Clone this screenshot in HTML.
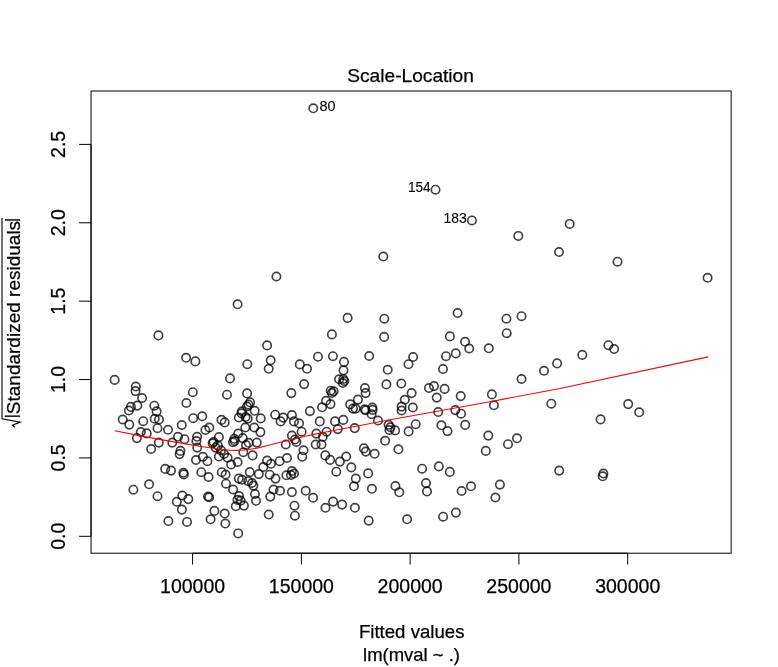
<!DOCTYPE html><html><head><meta charset="utf-8"><title>Scale-Location</title>
<style>html,body{margin:0;padding:0;background:#fff;}svg{display:block;will-change:transform;}text{font-family:"Liberation Sans",sans-serif;fill:#000;}</style></head><body>
<svg width="778" height="667" viewBox="0 0 778 667">
<rect width="778" height="667" fill="#fff"/>
<g fill="none" stroke="#000" stroke-opacity=".75" stroke-width="1.65">
<circle cx="313.3" cy="108.3" r="4.2"/>
<circle cx="435.5" cy="189.7" r="4.2"/>
<circle cx="471.9" cy="220.4" r="4.2"/>
<circle cx="276.4" cy="276.5" r="4.2"/>
<circle cx="237.6" cy="304.3" r="4.2"/>
<circle cx="158.4" cy="335.4" r="4.2"/>
<circle cx="186.1" cy="357.8" r="4.2"/>
<circle cx="195.4" cy="361.4" r="4.2"/>
<circle cx="267.1" cy="345.4" r="4.2"/>
<circle cx="270.7" cy="360.3" r="4.2"/>
<circle cx="247.3" cy="364.2" r="4.2"/>
<circle cx="268.7" cy="368.8" r="4.2"/>
<circle cx="383.3" cy="256.5" r="4.2"/>
<circle cx="347.6" cy="317.9" r="4.2"/>
<circle cx="384.3" cy="318.7" r="4.2"/>
<circle cx="457.6" cy="313.0" r="4.2"/>
<circle cx="331.9" cy="334.4" r="4.2"/>
<circle cx="384.1" cy="336.9" r="4.2"/>
<circle cx="449.9" cy="336.4" r="4.2"/>
<circle cx="465.1" cy="341.8" r="4.2"/>
<circle cx="469.2" cy="348.5" r="4.2"/>
<circle cx="488.8" cy="348.3" r="4.2"/>
<circle cx="455.8" cy="353.4" r="4.2"/>
<circle cx="446.0" cy="356.2" r="4.2"/>
<circle cx="318.0" cy="356.7" r="4.2"/>
<circle cx="332.9" cy="356.2" r="4.2"/>
<circle cx="369.2" cy="356.0" r="4.2"/>
<circle cx="413.1" cy="357.0" r="4.2"/>
<circle cx="344.0" cy="361.9" r="4.2"/>
<circle cx="408.5" cy="364.2" r="4.2"/>
<circle cx="299.8" cy="364.4" r="4.2"/>
<circle cx="307.0" cy="368.8" r="4.2"/>
<circle cx="343.5" cy="370.3" r="4.2"/>
<circle cx="387.7" cy="369.8" r="4.2"/>
<circle cx="443.0" cy="369.0" r="4.2"/>
<circle cx="569.7" cy="223.9" r="4.2"/>
<circle cx="518.3" cy="235.9" r="4.2"/>
<circle cx="559.0" cy="252.0" r="4.2"/>
<circle cx="617.5" cy="261.7" r="4.2"/>
<circle cx="707.6" cy="277.8" r="4.2"/>
<circle cx="506.4" cy="318.7" r="4.2"/>
<circle cx="521.5" cy="316.2" r="4.2"/>
<circle cx="506.7" cy="333.2" r="4.2"/>
<circle cx="608.4" cy="345.2" r="4.2"/>
<circle cx="614.1" cy="349.0" r="4.2"/>
<circle cx="582.3" cy="354.9" r="4.2"/>
<circle cx="557.1" cy="363.4" r="4.2"/>
<circle cx="544.0" cy="370.8" r="4.2"/>
<circle cx="114.6" cy="379.9" r="4.2"/>
<circle cx="135.8" cy="386.5" r="4.2"/>
<circle cx="135.5" cy="391.1" r="4.2"/>
<circle cx="142.1" cy="398.0" r="4.2"/>
<circle cx="137.3" cy="405.6" r="4.2"/>
<circle cx="130.9" cy="406.9" r="4.2"/>
<circle cx="128.9" cy="410.5" r="4.2"/>
<circle cx="122.7" cy="419.5" r="4.2"/>
<circle cx="129.3" cy="424.6" r="4.2"/>
<circle cx="154.3" cy="405.7" r="4.2"/>
<circle cx="156.6" cy="411.4" r="4.2"/>
<circle cx="154.7" cy="418.8" r="4.2"/>
<circle cx="159.0" cy="419.5" r="4.2"/>
<circle cx="143.2" cy="421.2" r="4.2"/>
<circle cx="157.5" cy="428.2" r="4.2"/>
<circle cx="168.0" cy="429.8" r="4.2"/>
<circle cx="181.8" cy="425.0" r="4.2"/>
<circle cx="186.4" cy="403.0" r="4.2"/>
<circle cx="140.8" cy="432.0" r="4.2"/>
<circle cx="146.7" cy="433.4" r="4.2"/>
<circle cx="136.9" cy="438.1" r="4.2"/>
<circle cx="178.0" cy="436.8" r="4.2"/>
<circle cx="184.5" cy="439.2" r="4.2"/>
<circle cx="230.0" cy="378.4" r="4.2"/>
<circle cx="192.8" cy="392.2" r="4.2"/>
<circle cx="227.0" cy="394.7" r="4.2"/>
<circle cx="247.1" cy="393.4" r="4.2"/>
<circle cx="193.2" cy="418.2" r="4.2"/>
<circle cx="202.2" cy="416.3" r="4.2"/>
<circle cx="250.1" cy="402.4" r="4.2"/>
<circle cx="248.5" cy="404.6" r="4.2"/>
<circle cx="247.0" cy="406.5" r="4.2"/>
<circle cx="254.7" cy="410.8" r="4.2"/>
<circle cx="242.0" cy="411.3" r="4.2"/>
<circle cx="241.4" cy="413.3" r="4.2"/>
<circle cx="238.8" cy="417.5" r="4.2"/>
<circle cx="245.5" cy="417.0" r="4.2"/>
<circle cx="247.7" cy="418.6" r="4.2"/>
<circle cx="260.7" cy="418.4" r="4.2"/>
<circle cx="221.5" cy="419.9" r="4.2"/>
<circle cx="224.7" cy="422.4" r="4.2"/>
<circle cx="275.2" cy="414.7" r="4.2"/>
<circle cx="283.2" cy="417.6" r="4.2"/>
<circle cx="280.6" cy="421.4" r="4.2"/>
<circle cx="245.3" cy="427.5" r="4.2"/>
<circle cx="254.3" cy="427.5" r="4.2"/>
<circle cx="260.4" cy="432.1" r="4.2"/>
<circle cx="209.3" cy="427.5" r="4.2"/>
<circle cx="205.4" cy="430.0" r="4.2"/>
<circle cx="197.1" cy="436.8" r="4.2"/>
<circle cx="218.9" cy="437.1" r="4.2"/>
<circle cx="238.2" cy="433.6" r="4.2"/>
<circle cx="234.3" cy="438.8" r="4.2"/>
<circle cx="242.7" cy="438.1" r="4.2"/>
<circle cx="304.1" cy="384.1" r="4.2"/>
<circle cx="291.3" cy="393.1" r="4.2"/>
<circle cx="386.4" cy="384.4" r="4.2"/>
<circle cx="339.1" cy="379.3" r="4.2"/>
<circle cx="343.3" cy="379.0" r="4.2"/>
<circle cx="344.3" cy="381.0" r="4.2"/>
<circle cx="342.8" cy="383.0" r="4.2"/>
<circle cx="364.9" cy="388.0" r="4.2"/>
<circle cx="365.6" cy="393.1" r="4.2"/>
<circle cx="330.7" cy="390.7" r="4.2"/>
<circle cx="333.6" cy="391.3" r="4.2"/>
<circle cx="331.9" cy="393.0" r="4.2"/>
<circle cx="326.0" cy="400.8" r="4.2"/>
<circle cx="330.5" cy="404.1" r="4.2"/>
<circle cx="322.1" cy="407.3" r="4.2"/>
<circle cx="357.9" cy="399.6" r="4.2"/>
<circle cx="350.2" cy="404.4" r="4.2"/>
<circle cx="353.0" cy="408.6" r="4.2"/>
<circle cx="355.6" cy="408.6" r="4.2"/>
<circle cx="364.7" cy="409.4" r="4.2"/>
<circle cx="365.7" cy="410.3" r="4.2"/>
<circle cx="372.3" cy="407.5" r="4.2"/>
<circle cx="372.6" cy="409.9" r="4.2"/>
<circle cx="371.6" cy="414.2" r="4.2"/>
<circle cx="378.0" cy="420.5" r="4.2"/>
<circle cx="309.9" cy="411.1" r="4.2"/>
<circle cx="291.9" cy="415.0" r="4.2"/>
<circle cx="293.9" cy="421.4" r="4.2"/>
<circle cx="299.0" cy="423.3" r="4.2"/>
<circle cx="301.6" cy="431.7" r="4.2"/>
<circle cx="319.8" cy="421.4" r="4.2"/>
<circle cx="335.0" cy="421.4" r="4.2"/>
<circle cx="343.3" cy="419.9" r="4.2"/>
<circle cx="337.8" cy="429.1" r="4.2"/>
<circle cx="354.7" cy="428.1" r="4.2"/>
<circle cx="326.6" cy="431.7" r="4.2"/>
<circle cx="316.3" cy="433.6" r="4.2"/>
<circle cx="322.8" cy="436.8" r="4.2"/>
<circle cx="291.9" cy="435.6" r="4.2"/>
<circle cx="295.0" cy="439.5" r="4.2"/>
<circle cx="401.3" cy="383.5" r="4.2"/>
<circle cx="411.6" cy="393.1" r="4.2"/>
<circle cx="404.8" cy="399.8" r="4.2"/>
<circle cx="401.6" cy="406.6" r="4.2"/>
<circle cx="401.6" cy="410.5" r="4.2"/>
<circle cx="412.8" cy="407.5" r="4.2"/>
<circle cx="428.9" cy="388.0" r="4.2"/>
<circle cx="434.0" cy="386.1" r="4.2"/>
<circle cx="444.6" cy="388.9" r="4.2"/>
<circle cx="436.7" cy="397.6" r="4.2"/>
<circle cx="460.7" cy="396.1" r="4.2"/>
<circle cx="438.2" cy="412.0" r="4.2"/>
<circle cx="455.3" cy="410.1" r="4.2"/>
<circle cx="461.1" cy="413.7" r="4.2"/>
<circle cx="465.2" cy="424.9" r="4.2"/>
<circle cx="441.4" cy="425.3" r="4.2"/>
<circle cx="447.5" cy="431.1" r="4.2"/>
<circle cx="415.7" cy="424.2" r="4.2"/>
<circle cx="408.6" cy="431.4" r="4.2"/>
<circle cx="395.1" cy="430.4" r="4.2"/>
<circle cx="388.6" cy="424.8" r="4.2"/>
<circle cx="390.4" cy="427.3" r="4.2"/>
<circle cx="389.4" cy="430.0" r="4.2"/>
<circle cx="488.3" cy="435.6" r="4.2"/>
<circle cx="521.5" cy="379.0" r="4.2"/>
<circle cx="491.9" cy="394.4" r="4.2"/>
<circle cx="493.9" cy="405.3" r="4.2"/>
<circle cx="551.3" cy="403.7" r="4.2"/>
<circle cx="517.0" cy="438.3" r="4.2"/>
<circle cx="600.6" cy="419.4" r="4.2"/>
<circle cx="628.2" cy="404.1" r="4.2"/>
<circle cx="639.2" cy="412.3" r="4.2"/>
<circle cx="158.8" cy="442.6" r="4.2"/>
<circle cx="151.1" cy="449.0" r="4.2"/>
<circle cx="172.3" cy="442.6" r="4.2"/>
<circle cx="180.4" cy="450.9" r="4.2"/>
<circle cx="179.6" cy="454.1" r="4.2"/>
<circle cx="165.2" cy="468.9" r="4.2"/>
<circle cx="171.0" cy="470.6" r="4.2"/>
<circle cx="183.4" cy="472.8" r="4.2"/>
<circle cx="183.8" cy="474.4" r="4.2"/>
<circle cx="149.1" cy="484.3" r="4.2"/>
<circle cx="133.4" cy="489.7" r="4.2"/>
<circle cx="157.5" cy="496.2" r="4.2"/>
<circle cx="182.3" cy="495.5" r="4.2"/>
<circle cx="176.8" cy="501.8" r="4.2"/>
<circle cx="188.3" cy="499.1" r="4.2"/>
<circle cx="181.9" cy="509.6" r="4.2"/>
<circle cx="196.4" cy="441.0" r="4.2"/>
<circle cx="197.2" cy="447.6" r="4.2"/>
<circle cx="212.6" cy="443.3" r="4.2"/>
<circle cx="213.6" cy="442.0" r="4.2"/>
<circle cx="215.6" cy="447.6" r="4.2"/>
<circle cx="221.0" cy="450.4" r="4.2"/>
<circle cx="217.9" cy="445.6" r="4.2"/>
<circle cx="233.0" cy="442.3" r="4.2"/>
<circle cx="234.5" cy="441.0" r="4.2"/>
<circle cx="248.6" cy="442.8" r="4.2"/>
<circle cx="246.0" cy="445.0" r="4.2"/>
<circle cx="256.8" cy="442.6" r="4.2"/>
<circle cx="285.8" cy="444.5" r="4.2"/>
<circle cx="243.3" cy="452.2" r="4.2"/>
<circle cx="252.6" cy="455.4" r="4.2"/>
<circle cx="196.0" cy="460.0" r="4.2"/>
<circle cx="202.9" cy="456.8" r="4.2"/>
<circle cx="207.4" cy="461.2" r="4.2"/>
<circle cx="218.9" cy="456.5" r="4.2"/>
<circle cx="224.1" cy="454.0" r="4.2"/>
<circle cx="227.6" cy="457.8" r="4.2"/>
<circle cx="231.1" cy="464.5" r="4.2"/>
<circle cx="237.6" cy="462.0" r="4.2"/>
<circle cx="267.1" cy="460.6" r="4.2"/>
<circle cx="271.0" cy="463.8" r="4.2"/>
<circle cx="263.3" cy="467.0" r="4.2"/>
<circle cx="279.6" cy="461.2" r="4.2"/>
<circle cx="287.0" cy="458.0" r="4.2"/>
<circle cx="201.3" cy="472.2" r="4.2"/>
<circle cx="208.6" cy="477.0" r="4.2"/>
<circle cx="221.8" cy="472.2" r="4.2"/>
<circle cx="225.6" cy="474.5" r="4.2"/>
<circle cx="249.8" cy="472.1" r="4.2"/>
<circle cx="258.8" cy="474.1" r="4.2"/>
<circle cx="269.7" cy="474.7" r="4.2"/>
<circle cx="275.5" cy="478.6" r="4.2"/>
<circle cx="286.4" cy="475.3" r="4.2"/>
<circle cx="238.8" cy="478.6" r="4.2"/>
<circle cx="242.1" cy="479.8" r="4.2"/>
<circle cx="248.2" cy="481.2" r="4.2"/>
<circle cx="252.0" cy="483.0" r="4.2"/>
<circle cx="253.4" cy="485.6" r="4.2"/>
<circle cx="226.0" cy="483.7" r="4.2"/>
<circle cx="233.1" cy="489.5" r="4.2"/>
<circle cx="208.0" cy="496.5" r="4.2"/>
<circle cx="209.2" cy="497.3" r="4.2"/>
<circle cx="254.9" cy="494.0" r="4.2"/>
<circle cx="256.0" cy="500.8" r="4.2"/>
<circle cx="273.5" cy="489.5" r="4.2"/>
<circle cx="280.0" cy="490.8" r="4.2"/>
<circle cx="270.3" cy="496.6" r="4.2"/>
<circle cx="239.1" cy="496.1" r="4.2"/>
<circle cx="240.7" cy="500.6" r="4.2"/>
<circle cx="237.5" cy="499.9" r="4.2"/>
<circle cx="235.8" cy="506.3" r="4.2"/>
<circle cx="296.4" cy="441.9" r="4.2"/>
<circle cx="303.5" cy="450.3" r="4.2"/>
<circle cx="302.2" cy="456.7" r="4.2"/>
<circle cx="315.7" cy="444.5" r="4.2"/>
<circle cx="321.5" cy="444.5" r="4.2"/>
<circle cx="325.3" cy="455.4" r="4.2"/>
<circle cx="330.1" cy="459.9" r="4.2"/>
<circle cx="339.9" cy="461.6" r="4.2"/>
<circle cx="346.2" cy="456.5" r="4.2"/>
<circle cx="351.3" cy="467.4" r="4.2"/>
<circle cx="336.3" cy="471.7" r="4.2"/>
<circle cx="363.9" cy="448.4" r="4.2"/>
<circle cx="365.8" cy="451.6" r="4.2"/>
<circle cx="374.6" cy="453.8" r="4.2"/>
<circle cx="385.1" cy="440.8" r="4.2"/>
<circle cx="368.1" cy="473.4" r="4.2"/>
<circle cx="355.8" cy="478.6" r="4.2"/>
<circle cx="354.0" cy="486.3" r="4.2"/>
<circle cx="371.9" cy="488.8" r="4.2"/>
<circle cx="292.0" cy="471.0" r="4.2"/>
<circle cx="294.0" cy="473.5" r="4.2"/>
<circle cx="291.0" cy="475.0" r="4.2"/>
<circle cx="291.9" cy="492.1" r="4.2"/>
<circle cx="305.7" cy="490.8" r="4.2"/>
<circle cx="313.1" cy="497.8" r="4.2"/>
<circle cx="294.5" cy="505.7" r="4.2"/>
<circle cx="333.1" cy="501.6" r="4.2"/>
<circle cx="342.1" cy="504.6" r="4.2"/>
<circle cx="325.5" cy="507.8" r="4.2"/>
<circle cx="354.9" cy="507.8" r="4.2"/>
<circle cx="398.4" cy="449.3" r="4.2"/>
<circle cx="485.8" cy="450.9" r="4.2"/>
<circle cx="422.1" cy="468.7" r="4.2"/>
<circle cx="438.8" cy="466.4" r="4.2"/>
<circle cx="449.8" cy="471.9" r="4.2"/>
<circle cx="395.4" cy="486.0" r="4.2"/>
<circle cx="399.3" cy="492.3" r="4.2"/>
<circle cx="426.0" cy="483.1" r="4.2"/>
<circle cx="427.0" cy="491.4" r="4.2"/>
<circle cx="461.6" cy="491.0" r="4.2"/>
<circle cx="471.0" cy="486.3" r="4.2"/>
<circle cx="508.0" cy="444.2" r="4.2"/>
<circle cx="559.2" cy="470.6" r="4.2"/>
<circle cx="499.9" cy="484.6" r="4.2"/>
<circle cx="495.4" cy="497.5" r="4.2"/>
<circle cx="603.4" cy="473.5" r="4.2"/>
<circle cx="602.7" cy="476.3" r="4.2"/>
<circle cx="168.4" cy="521.0" r="4.2"/>
<circle cx="187.0" cy="521.9" r="4.2"/>
<circle cx="214.4" cy="510.9" r="4.2"/>
<circle cx="210.6" cy="519.3" r="4.2"/>
<circle cx="224.7" cy="513.5" r="4.2"/>
<circle cx="225.3" cy="523.5" r="4.2"/>
<circle cx="238.2" cy="533.4" r="4.2"/>
<circle cx="243.9" cy="505.6" r="4.2"/>
<circle cx="268.7" cy="514.5" r="4.2"/>
<circle cx="294.9" cy="515.7" r="4.2"/>
<circle cx="368.7" cy="520.6" r="4.2"/>
<circle cx="407.1" cy="519.3" r="4.2"/>
<circle cx="443.1" cy="516.7" r="4.2"/>
<circle cx="455.9" cy="512.6" r="4.2"/>
</g>
<polyline fill="none" stroke="#ff0000" stroke-width="1.1" stroke-linejoin="round" points="114.8,430.7 144.3,436.6 173.9,441.9 199.3,446.2 218.6,449.0 230.1,450.2 237.8,450.4 247.5,449.7 257.1,448.1 266.8,445.8 276.4,443.3 286,440.8 295.7,438.5 305.3,436.2 315,434.1 330,431.2 390,419.8 490,401.7 560,388.5 708.1,356.9"/>
<g fill="none" stroke="#000" stroke-width="1">
<path d="M192.6 553.2H627.7"/>
<path d="M192.6 553.2V564.5"/>
<path d="M301.4 553.2V564.5"/>
<path d="M410.15 553.2V564.5"/>
<path d="M518.9 553.2V564.5"/>
<path d="M627.7 553.2V564.5"/>
<path d="M91.05 536.3V144.4"/>
<path d="M91.05 536.3H79.05"/>
<path d="M91.05 457.92H79.05"/>
<path d="M91.05 379.54H79.05"/>
<path d="M91.05 301.16H79.05"/>
<path d="M91.05 222.78H79.05"/>
<path d="M91.05 144.4H79.05"/>
<rect x="91.05" y="91.0" width="640.1" height="462.20000000000005"/>
</g>
<g font-size="19" stroke="#000" stroke-width="0.25">
<text x="192.6" y="593" font-size="19.5" text-anchor="middle">100000</text>
<text x="301.4" y="593" font-size="19.5" text-anchor="middle">150000</text>
<text x="410.15" y="593" font-size="19.5" text-anchor="middle">200000</text>
<text x="518.9" y="593" font-size="19.5" text-anchor="middle">250000</text>
<text x="627.7" y="593" font-size="19.5" text-anchor="middle">300000</text>
<text transform="translate(64.8 536.3) rotate(-90)" font-size="19.5" text-anchor="middle">0.0</text>
<text transform="translate(64.8 457.92) rotate(-90)" font-size="19.5" text-anchor="middle">0.5</text>
<text transform="translate(64.8 379.54) rotate(-90)" font-size="19.5" text-anchor="middle">1.0</text>
<text transform="translate(64.8 301.16) rotate(-90)" font-size="19.5" text-anchor="middle">1.5</text>
<text transform="translate(64.8 222.78) rotate(-90)" font-size="19.5" text-anchor="middle">2.0</text>
<text transform="translate(64.8 144.4) rotate(-90)" font-size="19.5" text-anchor="middle">2.5</text>
<text x="410.6" y="81.7" font-size="19.15" text-anchor="middle">Scale-Location</text>
<text x="358.9" y="637.8" textLength="105.6" lengthAdjust="spacingAndGlyphs">Fitted values</text>
<text x="363.1" y="661.1" textLength="96.9" lengthAdjust="spacingAndGlyphs">lm(mval ~ .)</text>
<g transform="rotate(-90)"><text x="-414.2" y="19.6">Standardized residuals</text><text x="-418.3" y="17.2" font-size="15.7">|</text><text x="-222.0" y="17.2" font-size="15.7">|</text></g>
</g>
<path d="M14.8 427.3L12.4 425.2L20.2 422.1L2 418.7V218" fill="none" stroke="#000" stroke-width="1.1" stroke-linejoin="miter"/>
<g font-size="14.4" stroke="#000" stroke-width="0.08"><text x="319.5" y="110.7">80</text><text x="407.9" y="192.3" textLength="22.8" lengthAdjust="spacingAndGlyphs">154</text><text x="443.5" y="223.0" textLength="23.2" lengthAdjust="spacingAndGlyphs">183</text></g>
</svg></body></html>
